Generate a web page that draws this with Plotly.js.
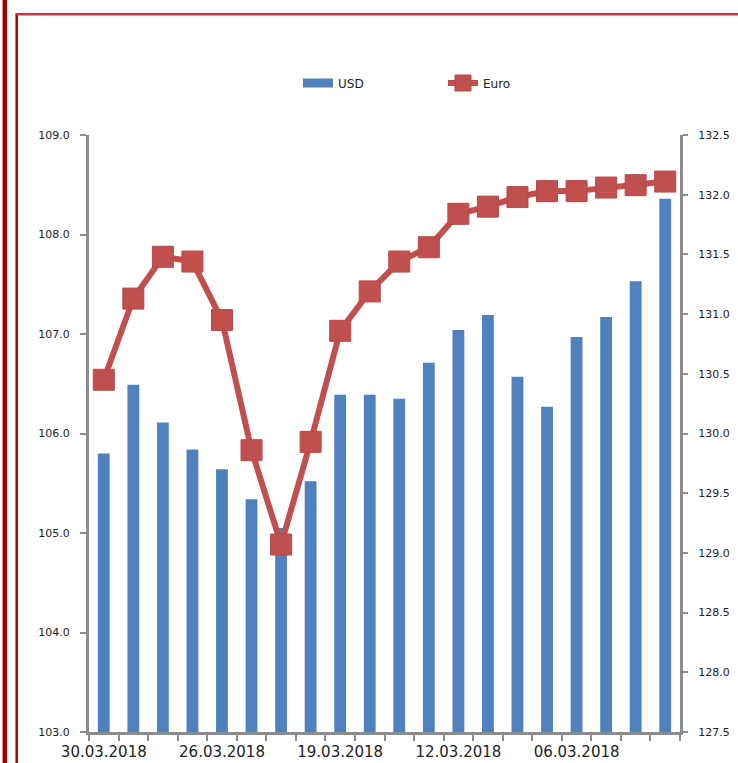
<!DOCTYPE html>
<html>
<head>
<meta charset="utf-8">
<script src="https://cdn.plot.ly/plotly-3.0.1.min.js"></script>
<style>
html,body{margin:0;padding:0;background:#fff;overflow:hidden;}
#chart{width:738px;height:763px;}
</style>
</head>
<body>
<div id="chart"></div>
<script>
// Data
const dates = ["30.03.2018","29.03.2018","28.03.2018","27.03.2018","26.03.2018",
               "23.03.2018","22.03.2018","20.03.2018","19.03.2018","16.03.2018",
               "15.03.2018","14.03.2018","12.03.2018","09.03.2018","08.03.2018",
               "07.03.2018","06.03.2018","05.03.2018","02.03.2018","01.03.2018"];
const shownLabels = ["30.03.2018","26.03.2018","19.03.2018","12.03.2018","06.03.2018"];
const usd = [105.80,106.49,106.11,105.84,105.64,105.34,105.05,105.52,106.39,106.39,
             106.35,106.71,107.04,107.19,106.57,106.27,106.97,107.17,107.53,108.36];
const euro = [130.45,131.13,131.48,131.44,130.95,129.86,129.07,129.93,130.86,131.19,
              131.44,131.56,131.84,131.90,131.98,132.03,132.03,132.06,132.08,132.11];
const leftTicks = [103,104,105,106,107,108,109];
const rightTicks = [127.5,128,128.5,129,129.5,130,130.5,131,131.5,132,132.5];

const W = 738, H = 763;
const M = {l:89, r:58, t:135, b:31};
const PW = W - M.l - M.r, PH = H - M.t - M.b;
const px = x => (x - M.l) / PW;
const py = y => (H - M.b - y) / PH;

const axisGray = '#8c8c8c';
const tickFont = {family:'DejaVu Sans, sans-serif', size:11, color:'#222'};

const traces = [
  {type:'bar', x:dates, y:usd, name:'USD', yaxis:'y', showlegend:false,
   marker:{color:'#4F81BD', line:{width:0}}, hoverinfo:'x+y'},
  {type:'scatter', mode:'lines', x:[dates[0]], y:[null], name:'USD', yaxis:'y',
   line:{color:'#4F81BD', width:9}, hoverinfo:'skip'},
  {type:'scatter', mode:'lines+markers', x:dates, y:euro, name:'Euro', yaxis:'y2',
   line:{color:'#C0504D', width:6},
   marker:{symbol:'square', size:21, color:'#C0504D', line:{color:'#B8484A', width:1}}}
];

const layout = {
  width:W, height:H,
  margin:M,
  paper_bgcolor:'#fff', plot_bgcolor:'#fff',
  bargap:0.6,
  showlegend:true,
  legend:{orientation:'h', x:px(298), xanchor:'left', y:(H-M.b-83)/PH, yanchor:'middle',
          font:{family:'DejaVu Sans, sans-serif', size:12, color:'#222'},
          entrywidth:100, entrywidthmode:'pixels',
          tracegroupgap:0, bgcolor:'rgba(0,0,0,0)'},
  xaxis:{type:'category', categoryorder:'array', categoryarray:dates, range:[-0.5, dates.length-0.5],
         tickvals:dates,
         ticktext:dates.map(d => shownLabels.includes(d) ? d : ''),
         tickangle:0, tickson:'boundaries', ticks:'outside', ticklen:6, tickwidth:2,
         tickcolor:axisGray, showline:true, linecolor:axisGray, linewidth:3,
         showgrid:false, zeroline:false, fixedrange:true,
         tickfont:{family:'DejaVu Sans, sans-serif', size:15, color:'#222'},
         ticklabelstandoff:4},
  yaxis:{range:[103,109], tickvals:leftTicks, ticktext:leftTicks.map(v=>v.toFixed(1)),
         ticks:'outside', ticklen:6, tickwidth:2, tickcolor:axisGray,
         showline:true, linecolor:axisGray, linewidth:3, showgrid:false, zeroline:false,
         tickfont:tickFont, ticklabelstandoff:8},
  yaxis2:{range:[127.5,132.5], overlaying:'y', side:'right',
          tickvals:rightTicks, ticktext:rightTicks.map(v=>v.toFixed(1)),
          ticks:'outside', ticklen:5, tickwidth:2, tickcolor:axisGray,
          showline:true, linecolor:axisGray, linewidth:3, showgrid:false, zeroline:false,
          tickfont:tickFont, ticklabelstandoff:8},
  shapes:[
    {type:'line', xref:'paper', yref:'paper', x0:px(4.8), x1:px(4.8), y0:py(0), y1:py(H),
     line:{color:'#A00000', width:4.5}},
    {type:'line', xref:'paper', yref:'paper', x0:px(16.7), x1:px(16.7), y0:py(13.5), y1:py(H),
     line:{color:'#A00000', width:2.5}},
    {type:'line', xref:'paper', yref:'paper', x0:px(15.5), x1:px(W), y0:py(14.3), y1:py(14.3),
     line:{color:'#C0393B', width:2.5}}
  ]
};

Plotly.newPlot('chart', traces, layout, {displayModeBar:false, staticPlot:true});
</script>
</body>
</html>
